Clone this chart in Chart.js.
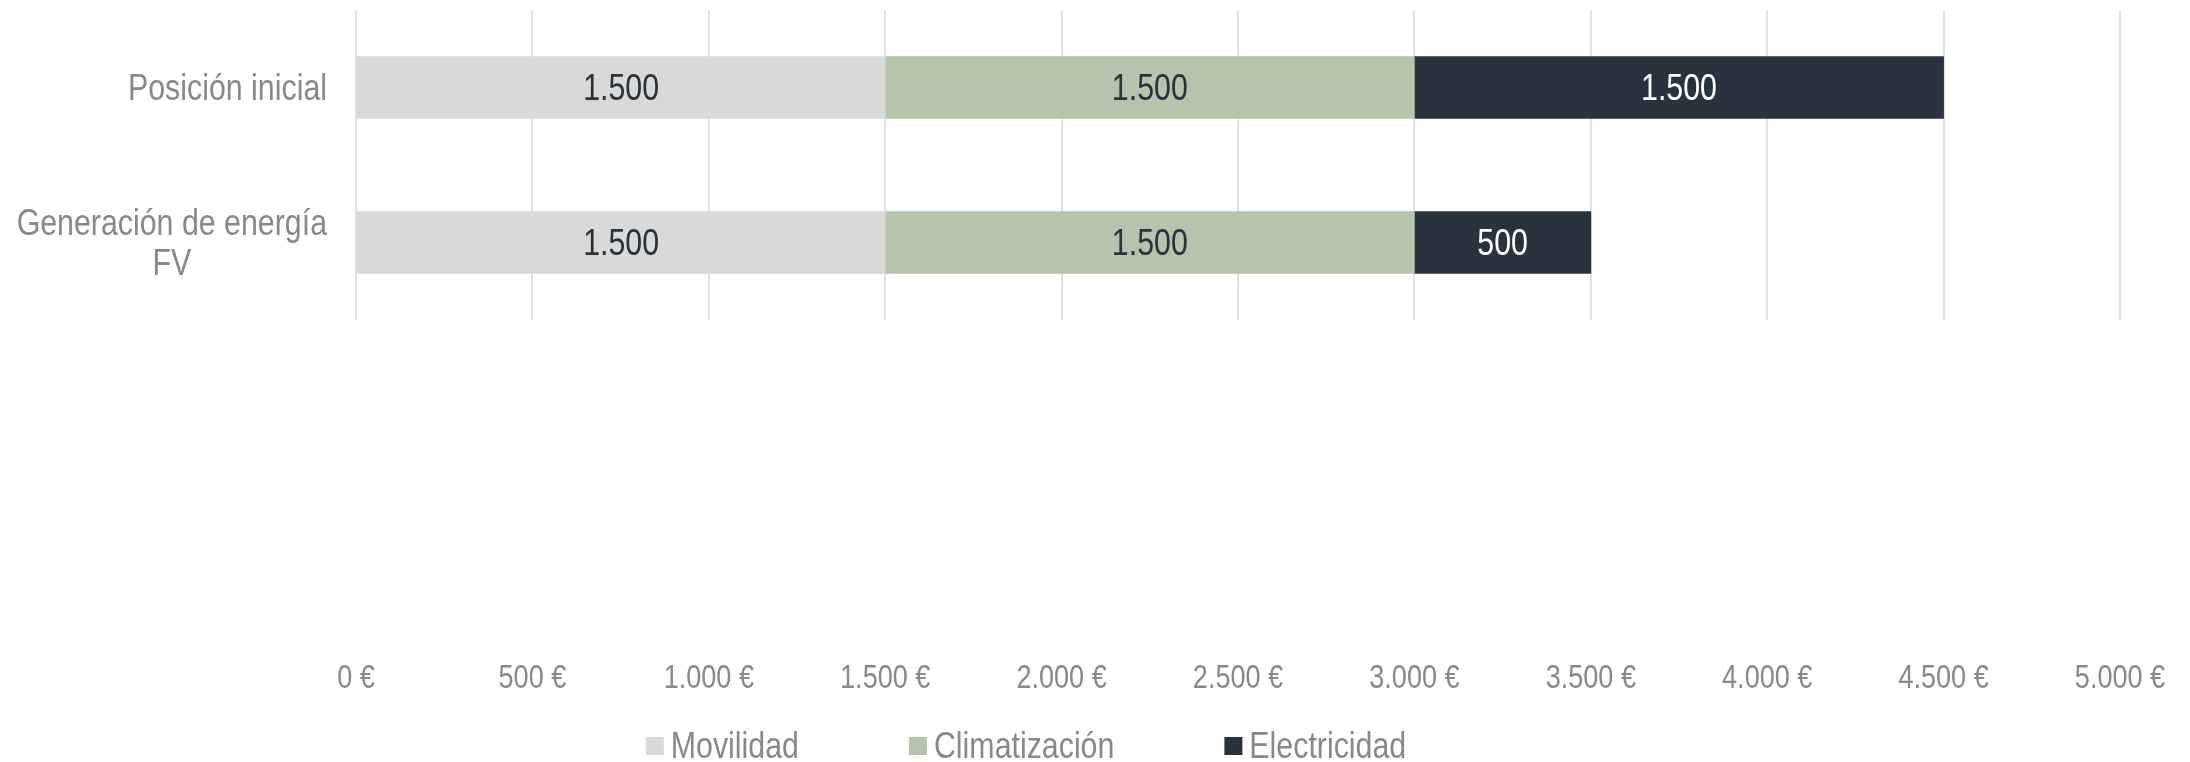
<!DOCTYPE html>
<html lang="es">
<head>
<meta charset="utf-8">
<title>Ahorro anual</title>
<script src="https://cdn.jsdelivr.net/npm/chart.js@4"></script>
<style>
  html, body { margin: 0; padding: 0; background: #fff; }
  #box { width: 2190px; height: 762px; }
</style>
</head>
<body>
<div id="box"><canvas id="savingsChart"></canvas></div>
<script>
// Categories (multi-line label as an array) and the three stacked series
const categories = ['Posición inicial', ['Generación de energía', 'FV']];
const movilidad = [1500, 1500];
const climatizacion = [1500, 1500];
const electricidad = [1500, 500];

// x axis range in euros
const axisMax = 5000;
const axisStep = 500;

// Arial metrics squeezed horizontally to get a narrow face
const FONT = "'Liberation Sans', Arial, sans-serif";
const NARROW = 0.82;
const GREY = '#898989';

// 1500 -> "1.500"
let thousands = (v) => String(v).replace(/\B(?=(\d{3})+(?!\d))/g, '.');

let narrowWidth = (ctx, text) => ctx.measureText(text).width * NARROW;

// 'middle' sits a little high for these glyphs, hence the +2
let drawNarrow = (ctx, text, x, y, align) => {
    ctx.save();
    ctx.translate(x, y + 2);
    ctx.scale(NARROW, 1);
    ctx.textAlign = align;
    ctx.textBaseline = 'middle';
    ctx.fillText(text, 0, 0);
    ctx.restore();
};

// Category names on the left: block right-aligned, lines centred within it
const categoryLabels = {
    id: 'categoryLabels',
    afterDraw(chart) {
        const ctx = chart.ctx;
        const yScale = chart.scales.y;
        const right = chart.chartArea.left - 29;
        const lineHeight = 40;
        ctx.save();
        ctx.font = `37px ${FONT}`;
        ctx.fillStyle = GREY;
        chart.data.labels.forEach((label, i) => {
            const lines = [].concat(label);
            const width = Math.max(...lines.map(l => narrowWidth(ctx, l)));
            const top = yScale.getPixelForTick(i) - (lines.length - 1) * lineHeight / 2;
            lines.forEach((line, j) => drawNarrow(ctx, line, right - width / 2, top + j * lineHeight, 'center'));
        });
        ctx.restore();
    }
};

// Euro amounts under the grid, well below the plot area
const euroTicks = {
    id: 'euroTicks',
    afterDraw(chart) {
        const ctx = chart.ctx;
        const xScale = chart.scales.x;
        ctx.save();
        ctx.font = `33px ${FONT}`;
        ctx.fillStyle = GREY;
        xScale.ticks.forEach(t => {
            drawNarrow(ctx, `${thousands(t.value)} €`, xScale.getPixelForValue(t.value), 677, 'center');
        });
        ctx.restore();
    }
};

// Value printed in the middle of every bar segment
const barValues = {
    id: 'barValues',
    afterDatasetsDraw(chart) {
        const ctx = chart.ctx;
        ctx.save();
        ctx.font = `37px ${FONT}`;
        chart.data.datasets.forEach((ds, i) => {
            chart.getDatasetMeta(i).data.forEach((bar, j) => {
                const p = bar.getCenterPoint();
                ctx.fillStyle = ds.valueColor;
                drawNarrow(ctx, thousands(ds.data[j]), p.x, p.y, 'center');
            });
        });
        ctx.restore();
    }
};

// Legend along the bottom with small square swatches
const bottomLegend = {
    id: 'bottomLegend',
    afterDraw(chart) {
        const ctx = chart.ctx;
        const box = 18, gap = 7, spacing = 110;
        ctx.save();
        ctx.font = `37px ${FONT}`;
        const items = chart.data.datasets.map(ds => ({
            text: ds.label,
            color: ds.backgroundColor,
            width: box + gap + narrowWidth(ctx, ds.label),
        }));
        const total = items.reduce((s, it) => s + it.width, 0) + spacing * (items.length - 1);
        let x = 1026 - total / 2;
        const y = chart.height - 16;
        items.forEach(it => {
            ctx.fillStyle = it.color;
            ctx.fillRect(x, y - box / 2, box, box);
            ctx.fillStyle = GREY;
            drawNarrow(ctx, it.text, x + box + gap, y, 'left');
            x += it.width + spacing;
        });
        ctx.restore();
    }
};

let savingsChart = new Chart(document.getElementById('savingsChart').getContext('2d'), {
    type: 'bar',
    data: {
        labels: categories,
        datasets: [{
            label: 'Movilidad',
            data: movilidad,
            backgroundColor: '#d9d9d9',
            valueColor: '#29333d',
            borderWidth: 0,
            barThickness: 62,
        }, {
            label: 'Climatización',
            data: climatizacion,
            backgroundColor: '#b5c4aa',
            valueColor: '#29333d',
            borderWidth: 0,
            barThickness: 62,
        }, {
            label: 'Electricidad',
            data: electricidad,
            backgroundColor: '#29333d',
            valueColor: '#ffffff',
            borderWidth: 0,
            barThickness: 62,
        }]
    },
    options: {
        indexAxis: 'y',
        maintainAspectRatio: false,
        responsive: true,
        animation: false,
        layout: {
            padding: {
                left: 356,
                right: 70,
                top: 10,
                bottom: 442,
            }
        },
        plugins: {
            legend: {
                display: false,
            },
            tooltip: {
                enabled: false,
            },
        },
        scales: {
            x: {
                stacked: true,
                min: 0,
                max: axisMax,
                grid: {
                    color: '#e2e2e2',
                    lineWidth: 2,
                    drawTicks: false,
                },
                border: {
                    display: false,
                },
                ticks: {
                    stepSize: axisStep,
                    // labels are drawn by the euroTicks plugin
                    display: false,
                }
            },
            y: {
                stacked: true,
                display: false,
            }
        }
    },
    plugins: [categoryLabels, euroTicks, barValues, bottomLegend],
});
</script>
</body>
</html>
